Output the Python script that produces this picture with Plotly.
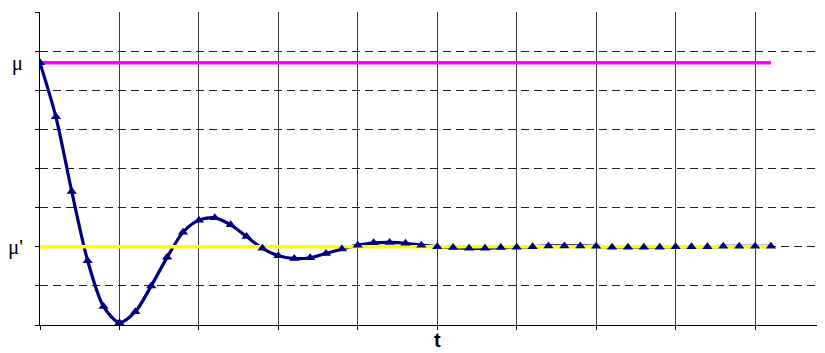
import plotly.graph_objects as go

t = list(range(47))
response = [6.70, 5.32, 3.41, 1.64, 0.47, 0.06, 0.34, 1.00, 1.73, 2.37,
            2.68, 2.74, 2.56, 2.26, 1.96, 1.77, 1.70, 1.72, 1.83, 1.94,
            2.04, 2.10, 2.11, 2.09, 2.04, 2.00, 1.98, 1.96, 1.96, 1.98,
            1.99, 2.00, 2.02, 2.02, 2.02, 2.01, 1.99, 1.99, 1.99, 1.99,
            2.00, 2.00, 2.00, 2.01, 2.01, 2.01, 2.01]
mu = 6.70
mu_prime = 2.00
level_mu = [mu] * len(t)
level_mu_prime = [mu_prime] * len(t)
y_tick_vals = [mu_prime, mu]
y_tick_text = ["μ'", "μ"]

fig = go.Figure()
fig.add_trace(go.Scatter(x=t, y=level_mu, mode="lines",
                         line=dict(color="#FF00FF", width=3.5), hoverinfo="skip"))
fig.add_trace(go.Scatter(x=t, y=response, mode="lines",
                         line=dict(color="#000080", width=3.2, shape="spline", smoothing=0.8)))
fig.add_trace(go.Scatter(x=t, y=level_mu_prime, mode="lines",
                         line=dict(color="#FFFF00", width=3.5), hoverinfo="skip"))
fig.add_trace(go.Scatter(x=t, y=response, mode="markers",
                         marker=dict(symbol="triangle-up", size=9, color="#000080")))
# invisible trace for label axis
fig.add_trace(go.Scatter(x=[0], y=[mu], yaxis="y2", mode="markers",
                         marker=dict(opacity=0), hoverinfo="skip"))

fig.update_layout(
    width=817, height=345,
    margin=dict(l=32, r=0, t=4, b=28),
    plot_bgcolor="white", paper_bgcolor="white",
    showlegend=False,
    xaxis=dict(range=[0, 49.4], dtick=5, tick0=0, showgrid=True,
               gridcolor="#3a3a3a", gridwidth=1, zeroline=False,
               showline=True, linecolor="#000000", linewidth=1,
               ticks="outside", ticklen=4, tickcolor="#000000",
               showticklabels=False, automargin=False),
    yaxis=dict(range=[0, 8], dtick=1, tick0=0, showgrid=True,
               gridcolor="#222222", gridwidth=1, griddash="8px,5px",
               zeroline=False, showline=True, linecolor="#000000", linewidth=1,
               ticks="outside", ticklen=4, tickcolor="#000000",
               showticklabels=False, automargin=False),
    yaxis2=dict(range=[0, 8], overlaying="y", side="left", showgrid=False,
                zeroline=False, showline=False, tickvals=y_tick_vals,
                ticktext=y_tick_text, ticks="", ticklabelstandoff=16,
                automargin=False,
                tickfont=dict(family="Liberation Serif", size=21, color="#000000")),
    annotations=[dict(x=25, y=0, xref="x", yref="paper", yshift=-15,
                      yanchor="middle", borderpad=0,
                      text="<b>t</b>", showarrow=False,
                      font=dict(family="Liberation Sans", size=20, color="#000000"))],
)

fig.write_html("out.html")
